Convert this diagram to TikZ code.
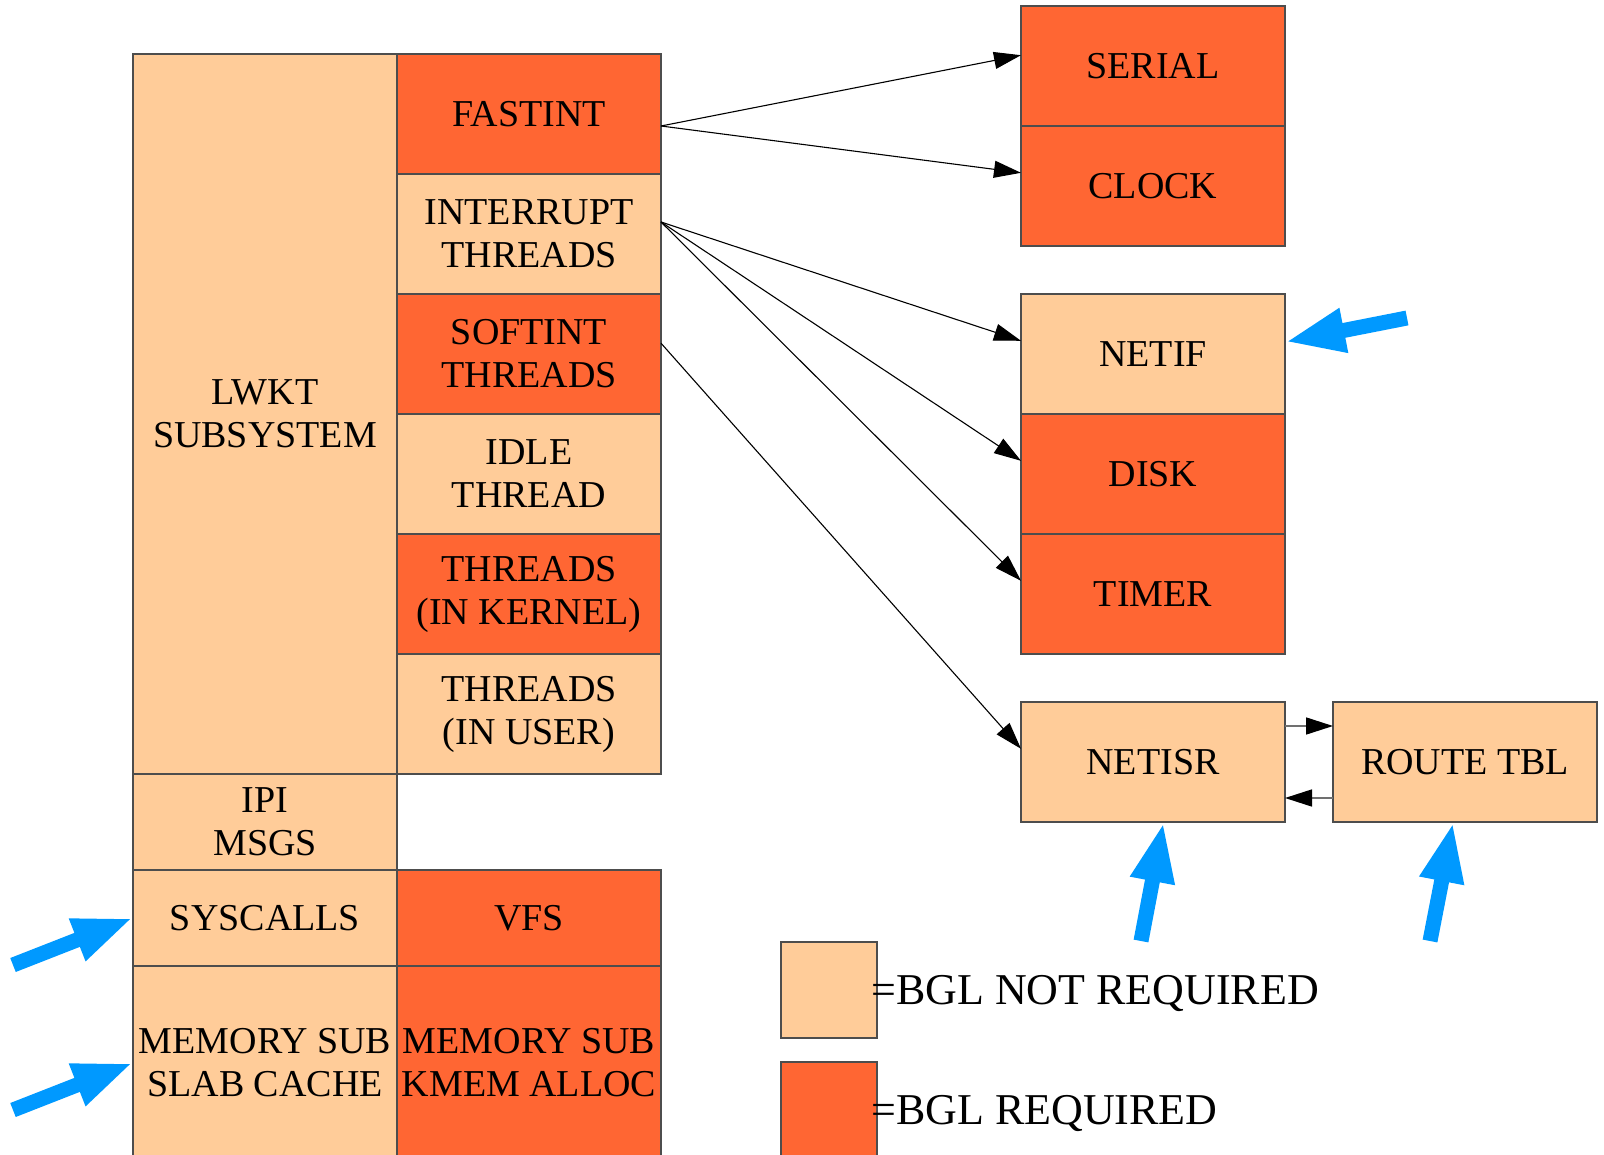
\documentclass[tikz,border=0pt]{standalone}
\usepackage{fontspec}
\setmainfont{Liberation Serif}
\usetikzlibrary{arrows.meta,calc}

\definecolor{paleorange}{HTML}{FFCC99}
\definecolor{hotorange}{HTML}{FF6633}
\definecolor{edgegray}{HTML}{4D4D4D}
\definecolor{linkgray}{HTML}{707070}
\definecolor{pointblue}{HTML}{0099FF}

\newcommand*\boxfont{\fontsize{38}{43}\selectfont}
\newcommand*\legendfont{\fontsize{44}{50}\selectfont}

\begin{document}
\begin{tikzpicture}[x=1pt,y=-1pt,
  cell/.style={draw=edgegray, line width=1.3pt, inner sep=0pt, outer sep=0pt,
    anchor=north west, align=center, font=\boxfont, text=black,
    minimum width=264pt, minimum height=120pt},
  free/.style={cell, fill=paleorange},
  held/.style={cell, fill=hotorange},
  link/.style={draw=black, line width=1.1pt, -{Triangle[length=27pt,width=17pt]}},
  pairlink/.style={draw=linkgray, line width=1.6pt,
    -{Triangle[length=27pt,width=17pt,color=black]}},
  pointer/.style={draw=pointblue, line width=15pt, -{Triangle[length=60pt,width=41pt]}},
  legendtext/.style={inner sep=0pt, anchor=base west, font=\legendfont, text=black}]

\useasboundingbox (0,0) rectangle (1604,1155);
\clip (0,0) rectangle (1604,1155);

% LWKT column and its thread rows
\node[free, minimum height=720pt] (lwkt) at (133,54) {LWKT\\SUBSYSTEM};
\node[held] (fastint) at (397,54)  {FASTINT};
\node[free] (intthr)  at (397,174) {INTERRUPT\\THREADS};
\node[held] (softint) at (397,294) {SOFTINT\\THREADS};
\node[free] (idle)    at (397,414) {IDLE\\THREAD};
\node[held] (thrk)    at (397,534) {THREADS\\(IN KERNEL)};
\node[free] (thru)    at (397,654) {THREADS\\(IN USER)};

% lower stack
\node[free, minimum height=96pt]  (ipi)      at (133,774) {IPI\\MSGS};
\node[free, minimum height=96pt]  (syscalls) at (133,870) {SYSCALLS};
\node[held, minimum height=96pt]  (vfs)      at (397,870) {VFS};
\node[free, minimum height=194pt] (slab)     at (133,966) {MEMORY SUB\\SLAB CACHE};
\node[held, minimum height=194pt] (kmem)     at (397,966) {MEMORY SUB\\KMEM ALLOC};

% devices
\node[held] (serial) at (1021,6)   {SERIAL};
\node[held] (clock)  at (1021,126) {CLOCK};
\node[free] (netif)  at (1021,294) {NETIF};
\node[held] (disk)   at (1021,414) {DISK};
\node[held] (timer)  at (1021,534) {TIMER};
\node[free] (netisr) at (1021,702) {NETISR};
\node[free] (route)  at (1333,702) {ROUTE TBL};

% legend
\node[free, minimum width=96pt, minimum height=96pt]  (legfree) at (781,942) {};
\node[held, minimum width=96pt, minimum height=100pt] (legheld) at (781,1062) {};
\node[legendtext] (legfreetxt) at (871,1004) {=BGL NOT REQUIRED};
\node[legendtext] (legheldtxt) at (871,1124) {=BGL REQUIRED};

% dispatch connectors
\coordinate (fastout) at ($(fastint.north east)!0.6!(fastint.south east)$);
\coordinate (intout)  at ($(intthr.north east)!0.4!(intthr.south east)$);
\coordinate (softout) at ($(softint.north east)!0.41!(softint.south east)$);
\draw[link] (fastout) -- ($(serial.north west)!0.41!(serial.south west)$);
\draw[link] (fastout) -- ($(clock.north west)!0.39!(clock.south west)$);
\draw[link] (intout) -- ($(netif.north west)!0.39!(netif.south west)$);
\draw[link] (intout) -- ($(disk.north west)!0.39!(disk.south west)$);
\draw[link] (intout) -- ($(timer.north west)!0.39!(timer.south west)$);
\draw[link] (softout) -- ($(netisr.north west)!0.39!(netisr.south west)$);

% netisr <-> route table
\draw[pairlink] ($(netisr.north east)!0.2!(netisr.south east)$) -- ($(route.north west)!0.2!(route.south west)$);
\draw[pairlink] ($(route.north west)!0.8!(route.south west)$) -- ($(netisr.north east)!0.8!(netisr.south east)$);

% markers for the parts that run without the BGL
\coordinate (p1) at (1407,318);
\coordinate (p2) at (1141,941);
\coordinate (p3) at (1430,941);
\coordinate (p4) at (13,965);
\coordinate (p5) at (13,1110);
\draw[pointer] (p1) -- ($(netif.north east)!0.4!(netif.south east)$);
\draw[pointer] (p2) -- ($(netisr.south west)!0.54!(netisr.south east)$);
\draw[pointer] (p3) -- ($(route.south west)!0.455!(route.south east)$);
\draw[pointer] (p4) -- (syscalls.west);
\draw[pointer] (p5) -- (slab.west);
\end{tikzpicture}
\end{document}
